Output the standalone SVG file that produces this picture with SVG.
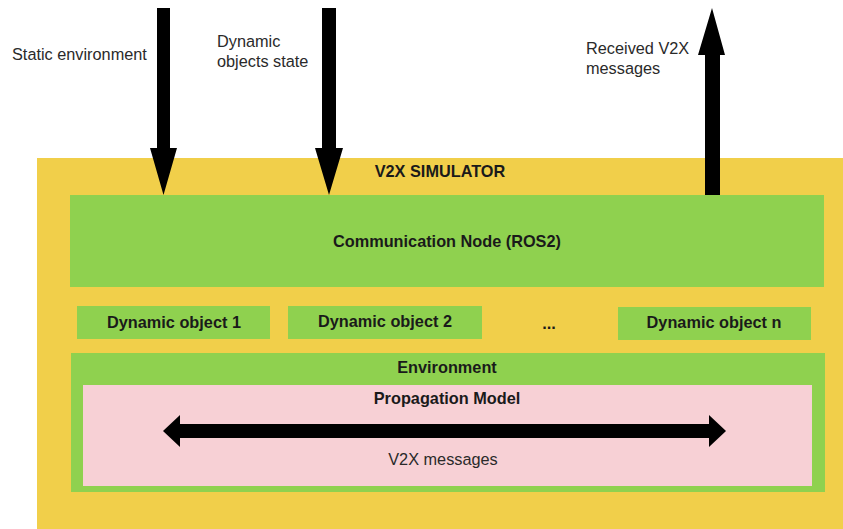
<svg xmlns="http://www.w3.org/2000/svg" width="843" height="529" viewBox="0 0 843 529">
<style>
.lbl{font-family:"Liberation Sans",Arial,sans-serif;font-size:16.3px;fill:#2a2a2a}
.b{font-family:"Liberation Sans",Arial,sans-serif;font-size:16.3px;font-weight:bold;fill:#1a1a1a;text-anchor:middle}
.yel{fill:#F1CF4A}
.grn{fill:#8FD14F}
.pink{fill:#F7D0D5}
.arr{fill:#000}
</style>
<rect width="843" height="529" fill="#fff"/>
<g id="simulator">
<rect class="yel" x="37" y="158" width="806" height="371"/>
<text class="b" x="440" y="177">V2X SIMULATOR</text>
</g>
<g id="comm-node">
<rect class="grn" x="70" y="195" width="754" height="92"/>
<text class="b" x="447" y="247">Communication Node (ROS2)</text>
</g>
<g id="dyn1">
<rect class="grn" x="77" y="306" width="193" height="33"/>
<text class="b" x="174" y="328">Dynamic object 1</text>
</g>
<g id="dyn2">
<rect class="grn" x="288" y="306" width="194" height="33"/>
<text class="b" x="385" y="327">Dynamic object 2</text>
</g>
<g id="ellipsis">
<text class="b" x="549" y="329">...</text>
</g>
<g id="dynn">
<rect class="grn" x="618" y="307" width="193" height="33"/>
<text class="b" x="714" y="328">Dynamic object n</text>
</g>
<g id="environment">
<rect class="grn" x="71" y="353" width="754" height="139"/>
<text class="b" x="447" y="373">Environment</text>
</g>
<g id="propagation">
<rect class="pink" x="83" y="385" width="729" height="101"/>
<text class="b" x="447" y="404">Propagation Model</text>
<text class="lbl" x="443" y="465" text-anchor="middle">V2X messages</text>
</g>
<g id="connectors">
<polygon class="arr" points="157,8 170,8 170,148 177,148 163.5,195 150,148 157,148"/>
<polygon class="arr" points="322,8 336,8 336,148 343,148 329,195 315,148 322,148"/>
<polygon class="arr" points="705,195 720,195 720,55 725,55 712,8 698,55 705,55"/>
<polygon class="arr" points="163,431 180,415 180,424 709,424 709,415 726,431 709,447 709,438 180,438 180,447"/>
</g>
<g id="labels">
<text class="lbl" x="12" y="60">Static environment</text>
<text class="lbl" x="217" y="47">Dynamic</text>
<text class="lbl" x="217" y="67">objects state</text>
<text class="lbl" x="586" y="54">Received V2X</text>
<text class="lbl" x="586" y="74">messages</text>
</g>
</svg>
